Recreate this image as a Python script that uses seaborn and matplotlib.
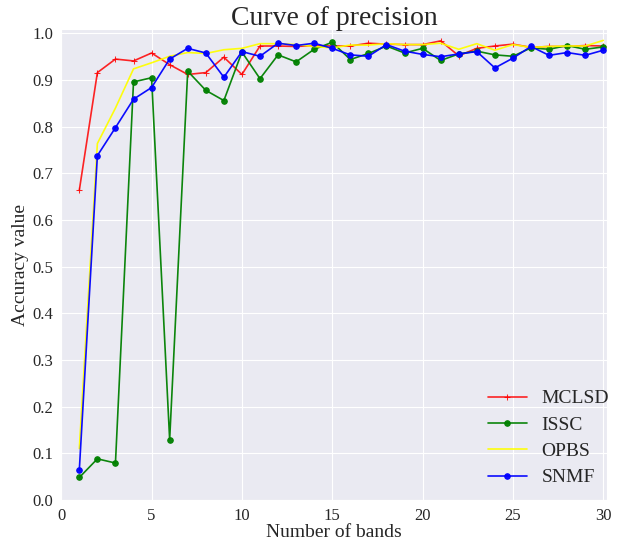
import numpy as np
import pandas as pd
import matplotlib
matplotlib.use("Agg")
import matplotlib.pyplot as plt
import seaborn as sns

bands = list(range(1, 31))
mclsd = [0.664, 0.916, 0.945, 0.941, 0.958, 0.933, 0.912, 0.916, 0.949, 0.912,
         0.973, 0.973, 0.972, 0.974, 0.973, 0.973, 0.979, 0.977, 0.976, 0.976,
         0.984, 0.952, 0.968, 0.973, 0.977, 0.970, 0.972, 0.972, 0.974, 0.973]
issc = [0.048, 0.088, 0.079, 0.896, 0.905, 0.129, 0.919, 0.878, 0.856, 0.960,
        0.903, 0.954, 0.939, 0.966, 0.981, 0.944, 0.957, 0.973, 0.958, 0.968,
        0.942, 0.956, 0.962, 0.954, 0.951, 0.969, 0.966, 0.974, 0.966, 0.971]
opbs = [0.110, 0.764, 0.840, 0.924, 0.937, 0.951, 0.959, 0.957, 0.965, 0.968,
        0.978, 0.978, 0.976, 0.972, 0.969, 0.975, 0.975, 0.978, 0.976, 0.976,
        0.979, 0.966, 0.978, 0.964, 0.976, 0.970, 0.972, 0.973, 0.973, 0.985]
snmf = [0.064, 0.738, 0.798, 0.859, 0.884, 0.945, 0.968, 0.958, 0.906, 0.961,
        0.951, 0.979, 0.974, 0.979, 0.968, 0.954, 0.951, 0.976, 0.962, 0.955,
        0.950, 0.956, 0.961, 0.926, 0.947, 0.972, 0.953, 0.959, 0.953, 0.964]
names = ["MCLSD", "ISSC", "OPBS", "SNMF"]
x_ticks = [0, 5, 10, 15, 20, 25, 30]
y_ticks = [0.0, 0.1, 0.2, 0.3, 0.4, 0.5, 0.6, 0.7, 0.8, 0.9, 1.0]

sns.set_style("darkgrid")
plt.rcParams['font.family'] = ['Liberation Serif', 'DejaVu Serif']

fig = plt.figure(figsize=(6.25, 5.41), dpi=100)
ax = fig.add_axes([0.098, 0.076, 0.873, 0.870])

series = [mclsd, issc, opbs, snmf]
colors = ["red", "green", "yellow", "blue"]
markers = ["+", "o", None, "o"]
msizes = [4, 4, 0, 4]
for name, vals, c, m, ms in zip(names, series, colors, markers, msizes):
    df = pd.DataFrame({"band": bands, "acc": vals})
    sns.lineplot(data=df, x="band", y="acc", ax=ax, color=c, marker=m,
                 markersize=ms, markeredgecolor=c, linewidth=1.2,
                 alpha=0.85 if name == "MCLSD" else 0.95, label=name)

ax.set_xlim(0, 30.2)
ax.set_ylim(0, 1.009)
ax.set_xticks(x_ticks)
ax.set_yticks(y_ticks)
ax.set_xticklabels([str(t) for t in x_ticks], fontsize=12)
ax.set_yticklabels([f"{t:.1f}" for t in y_ticks], fontsize=12)
ax.set_xlabel("Number of bands", fontsize=14, labelpad=0)
ax.set_ylabel("Accuracy value", fontsize=14, labelpad=3)
ax.set_title("Curve of precision", fontsize=20, pad=3)
ax.tick_params(axis='both', pad=2)
leg = ax.legend(loc="lower right", frameon=False, fontsize=14,
                bbox_to_anchor=(1.018, 0.012), borderaxespad=0,
                handlelength=2.0, handletextpad=0.75, labelspacing=0.45)
fig.savefig("out.png", dpi=100)
